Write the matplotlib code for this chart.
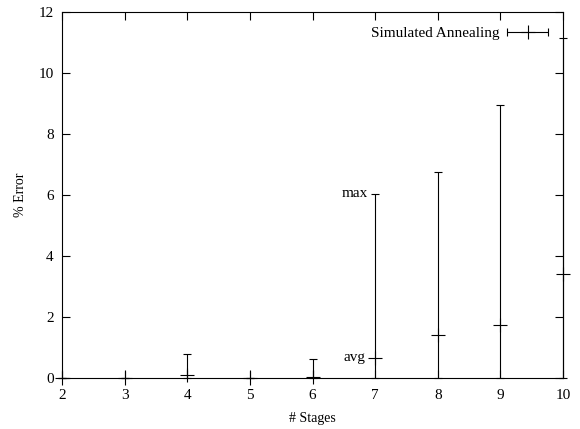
import matplotlib
matplotlib.use('Agg')
import matplotlib.pyplot as plt
from matplotlib.container import ErrorbarContainer
from matplotlib.legend_handler import HandlerErrorbar
import numpy as np

# stages, average and maximum % error (min is always 0)
stages = [2, 3, 4, 5, 6, 7, 8, 9, 10]
avg_err = [0.0, 0.0, 0.1, 0.0, 0.03, 0.66, 1.42, 1.73, 3.42]
max_err = [0.0, 0.0, 0.78, 0.0, 0.62, 6.04, 6.77, 8.96, 11.15]
min_err = [0.0] * len(stages)

plt.rcParams['font.family'] = ['Liberation Serif', 'DejaVu Serif']

fig = plt.figure(figsize=(5.8, 4.29), dpi=100)
ax = fig.add_axes([0.1069, 0.1189, 0.8638, 0.8531])

lw = 0.8
avg = np.array(avg_err)
yerr = [avg - np.array(min_err), np.array(max_err) - avg]
ax.errorbar(stages, avg_err, yerr=yerr, fmt='+', color='k', ms=10, mew=lw,
            elinewidth=lw, capsize=2.6, capthick=lw, clip_on=False, zorder=3)

# legend proxy with a horizontal error bar, like gnuplot's key sample
proxy = ax.errorbar([np.nan], [np.nan], xerr=[1], fmt='+', color='k', ms=10,
                    mew=lw, elinewidth=lw, capsize=2.6, capthick=lw,
                    label='Simulated Annealing')
ax.legend(handles=[proxy], loc='upper right', frameon=False, markerfirst=False,
          fontsize=11, handlelength=2.9, handletextpad=0.4, borderaxespad=0.0,
          bbox_to_anchor=(0.986, 0.977),
          handler_map={ErrorbarContainer: HandlerErrorbar(xerr_size=1.35)})

ax.annotate('max', (stages[5], max_err[5]), xytext=(-5, -2),
            textcoords='offset points', ha='right', va='baseline', fontsize=11)
ax.annotate('avg', (stages[5], avg_err[5]), xytext=(-7, 0),
            textcoords='offset points', ha='right', va='center', fontsize=11)

ax.set_xlim(2, 10)
ax.set_ylim(0, 12)
ax.set_xticks(range(2, 11))
ax.set_yticks(range(0, 13, 2))
ax.tick_params(direction='in', top=True, right=True, length=6, width=lw,
               labelsize=11, pad=6)
ax.tick_params(axis='x', pad=8)
for s in ax.spines.values():
    s.set_linewidth(lw)
ax.set_xlabel('# Stages', fontsize=10)
ax.set_ylabel('% Error', fontsize=10)
ax.xaxis.set_label_coords(0.5, -0.093)
ax.yaxis.set_label_coords(-0.07, 0.5)

fig.savefig('out.png', dpi=100)
